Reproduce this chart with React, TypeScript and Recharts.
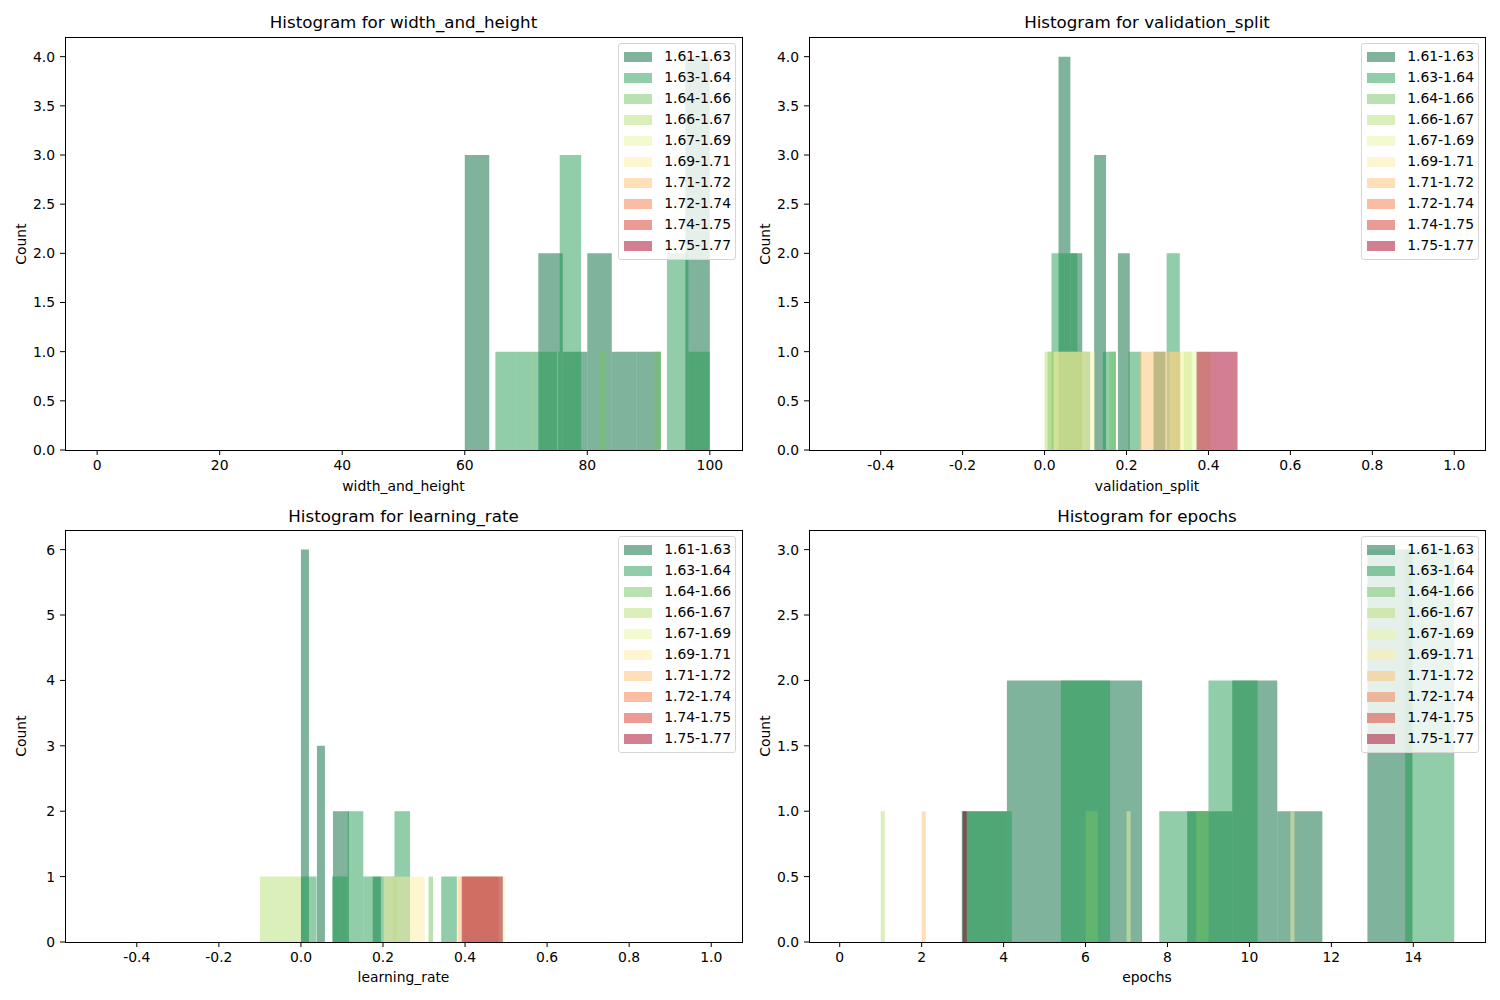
import React from 'react'
import { ComposedChart, XAxis, YAxis, ReferenceArea } from 'recharts'

// legend labels and colours (RdYlGn_r sampled into 10 steps, drawn at alpha 0.5)
const LEGEND_LABELS = ['1.61-1.63', '1.63-1.64', '1.64-1.66', '1.66-1.67', '1.67-1.69', '1.69-1.71', '1.71-1.72', '1.72-1.74', '1.74-1.75', '1.75-1.77']
const BAR_COLORS = ['#006837', '#229c52', '#74c365', '#b7e075', '#eaf6a2', '#feeea2', '#fdbf6f', '#f67b4a', '#da372a', '#a50026']

type Bin = [number, number, number] // [left edge, right edge, count]

const widthAndHeightBins: Bin[][] = [
  [[60, 64, 3], [72, 76, 2], [76, 80, 1], [80, 84, 2], [84, 88, 1], [88, 92, 1], [96, 100, 4]],
  [[65, 68.5, 1], [68.5, 72, 1], [72, 75.5, 1], [75.5, 79, 3], [93, 96.5, 2], [96.5, 100, 1]],
  [[82, 83, 1], [91, 92, 1]],
  [[70.95, 71.05, 1]],
  [[75.05, 75.15, 1]],
  [], [], [], [], [],
]

const validationSplitBins: Bin[][] = [
  [[0.034, 0.063, 4], [0.063, 0.092, 2], [0.121, 0.15, 3], [0.179, 0.208, 2], [0.266, 0.295, 1]],
  [[0.017, 0.048, 2], [0.048, 0.08, 2], [0.08, 0.111, 1], [0.142, 0.174, 1], [0.205, 0.236, 1], [0.298, 0.33, 2]],
  [[0.0073, 0.022, 1], [0.159, 0.174, 1]],
  [[0, 0.1, 1], [0.34, 0.359, 1]],
  [[0.305, 0.405, 1]],
  [[0.022, 0.122, 1]],
  [[0.232, 0.332, 1]],
  [], [],
  [[0.371, 0.471, 1]],
]

const learningRateBins: Bin[][] = [
  [[0, 0.0195, 6], [0.039, 0.0585, 3], [0.078, 0.0975, 2], [0.0975, 0.117, 2], [0.175, 0.195, 1]],
  [[0, 0.038, 1], [0.076, 0.114, 1], [0.114, 0.152, 2], [0.152, 0.19, 1], [0.19, 0.228, 1], [0.228, 0.266, 2], [0.342, 0.38, 1]],
  [[0.224, 0.233, 1], [0.311, 0.322, 1]],
  [[-0.1, 0, 1]],
  [[0.397, 0.497, 1]],
  [[0.2017, 0.3017, 1]],
  [[0.382, 0.482, 1]],
  [], [],
  [[0.392, 0.492, 1]],
]

const epochsBins: Bin[][] = [
  [[2.98, 4.08, 1], [4.08, 5.18, 2], [5.18, 6.28, 2], [6.28, 7.38, 2], [8.48, 9.58, 1], [9.58, 10.68, 2], [10.68, 11.78, 1], [12.88, 13.98, 3]],
  [[3.0, 4.2, 1], [5.4, 6.6, 2], [7.8, 9.0, 1], [9.0, 10.2, 2], [13.8, 15.0, 3]],
  [[6.0, 6.3, 1], [8.7, 9.0, 1]],
  [[1.0, 1.1, 1]],
  [[7.0, 7.1, 1]],
  [[11.0, 11.1, 1]],
  [[2.0, 2.1, 1]],
  [], [],
  [[3.0, 3.1, 1]],
]

const countTicks4 = [0, 0.5, 1, 1.5, 2, 2.5, 3, 3.5, 4]
const countTicks6 = [0, 1, 2, 3, 4, 5, 6]
const countTicks3 = [0, 0.5, 1, 1.5, 2, 2.5, 3]
const sizeTicks = [0, 20, 40, 60, 80, 100]
const fractionTicks = [-0.4, -0.2, 0, 0.2, 0.4, 0.6, 0.8, 1.0]
const epochTicks = [0, 2, 4, 6, 8, 10, 12, 14]

const FONT = '"DejaVu Sans", sans-serif'
const W = 750
const H = 500
const Y_AXIS_W = 45
const X_AXIS_H = 30

const fmt1 = (v: number) => v.toFixed(1)
const fmt0 = (v: number) => String(v)

function Legend() {
  return (
    <div style={{
      background: 'rgba(255,255,255,0.8)', border: '1px solid #d6d6d6', borderRadius: 3,
      padding: '2px 4px 3px 5px', fontSize: 13.9, lineHeight: '21px', color: '#000',
    }}>
      {LEGEND_LABELS.map((label, i) => (
        <div key={label} style={{ display: 'flex', alignItems: 'center', height: 21 }}>
          <span style={{ display: 'inline-block', width: 28, height: 10, marginRight: 12, background: BAR_COLORS[i], opacity: 0.5 }} />
          <span>{label}</span>
        </div>
      ))}
    </div>
  )
}

function Panel({ x, y, plot, title, xLabel, bins, xDomain, xTicks, xFmt, yDomain, yTicks, yFmt }: any) {
  const margin = {
    left: plot.left - x - Y_AXIS_W,
    right: x + W - plot.right,
    top: plot.top - y,
    bottom: y + H - plot.bottom - X_AXIS_H,
  }
  const pl = plot.left - x
  const pt = plot.top - y
  const pw = plot.right - plot.left
  const ph = plot.bottom - plot.top

  return (
    <div style={{ position: 'absolute', left: x, top: y, width: W, height: H }}>
      <ComposedChart width={W} height={H} margin={margin}>
        <XAxis type="number" dataKey="x" domain={xDomain} ticks={xTicks} allowDataOverflow interval={0}
          height={X_AXIS_H} axisLine={false} tickLine={{ stroke: '#000' }} tickSize={5} tickMargin={5}
          tick={{ fontSize: 13.9, fill: '#000' }} tickFormatter={xFmt} />
        <YAxis type="number" domain={yDomain} ticks={yTicks} allowDataOverflow interval={0}
          width={Y_AXIS_W} axisLine={false} tickLine={{ stroke: '#000' }} tickSize={5} tickMargin={5}
          tick={{ fontSize: 13.9, fill: '#000' }} tickFormatter={yFmt} />
        {bins.flatMap((series: Bin[], si: number) =>
          series.map((b: Bin, bi: number) => (
            <ReferenceArea key={`${si}-${bi}`} x1={b[0]} x2={b[1]} y1={0} y2={b[2]}
              fill={BAR_COLORS[si]} fillOpacity={0.5} stroke="none" ifOverflow="visible" />
          ))
        )}
      </ComposedChart>
      <div style={{ position: 'absolute', left: pl, top: pt, width: pw + 1, height: ph + 1, boxSizing: 'border-box', border: '1px solid #000', pointerEvents: 'none' }} />
      <div style={{ position: 'absolute', left: pl, top: plot.titleY - y - 10, width: pw, textAlign: 'center', fontSize: 16.7, lineHeight: '20px' }}>{title}</div>
      <div style={{ position: 'absolute', left: pl, top: plot.xLabelY - y - 10, width: pw, textAlign: 'center', fontSize: 13.9, lineHeight: '20px' }}>{xLabel}</div>
      <div style={{ position: 'absolute', left: pl - 44 - 50, top: pt + ph / 2 - 10, width: 100, textAlign: 'center', fontSize: 13.9, lineHeight: '20px', transform: 'rotate(-90deg)' }}>Count</div>
      <div style={{ position: 'absolute', right: x + W - plot.right + 6, top: pt + 6 }}>
        <Legend />
      </div>
    </div>
  )
}

export default function App() {
  return (
    <div style={{ position: 'absolute', left: 0, top: 0, width: 1500, height: 1000, background: '#fff', fontFamily: FONT }}>
      <Panel x={0} y={0} plot={{ left: 65, right: 742, top: 37, bottom: 450, titleY: 22, xLabelY: 486 }}
        title="Histogram for width_and_height" xLabel="width_and_height" bins={widthAndHeightBins}
        xDomain={[-5.25, 105.25]} xTicks={sizeTicks} xFmt={fmt0} yDomain={[0, 4.2]} yTicks={countTicks4} yFmt={fmt1} />
      <Panel x={750} y={0} plot={{ left: 809, right: 1485, top: 37, bottom: 450, titleY: 22, xLabelY: 486 }}
        title="Histogram for validation_split" xLabel="validation_split" bins={validationSplitBins}
        xDomain={[-0.575, 1.075]} xTicks={fractionTicks} xFmt={fmt1} yDomain={[0, 4.2]} yTicks={countTicks4} yFmt={fmt1} />
      <Panel x={0} y={500} plot={{ left: 65, right: 742, top: 530, bottom: 942, titleY: 516, xLabelY: 977 }}
        title="Histogram for learning_rate" xLabel="learning_rate" bins={learningRateBins}
        xDomain={[-0.575, 1.075]} xTicks={fractionTicks} xFmt={fmt1} yDomain={[0, 6.3]} yTicks={countTicks6} yFmt={fmt0} />
      <Panel x={750} y={500} plot={{ left: 809, right: 1485, top: 530, bottom: 942, titleY: 516, xLabelY: 977 }}
        title="Histogram for epochs" xLabel="epochs" bins={epochsBins}
        xDomain={[-0.75, 15.75]} xTicks={epochTicks} xFmt={fmt0} yDomain={[0, 3.15]} yTicks={countTicks3} yFmt={fmt1} />
    </div>
  )
}
